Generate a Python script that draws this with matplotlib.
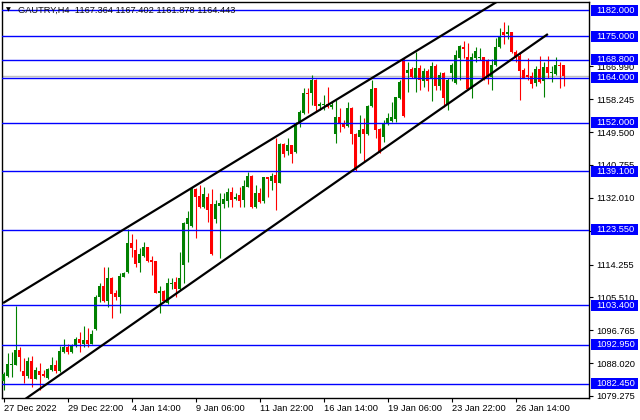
import matplotlib
matplotlib.use('Agg')
from matplotlib import pyplot as plt
from matplotlib.patches import Rectangle
from matplotlib.transforms import blended_transform_factory

# GAUTRY H4 candles (open, high, low, close)
opens = [1083.3, 1084.6, 1087.6, 1087.6, 1091.5, 1085.9, 1084.7, 1088.6, 1083.9, 1085.9,
         1085.2, 1084.0, 1086.2, 1087.5, 1085.9, 1091.0, 1092.3, 1090.9, 1092.6, 1094.4,
         1093.2, 1094.2, 1093.2, 1097.0, 1105.5, 1108.5, 1104.6, 1110.7, 1106.7, 1105.7,
         1111.0, 1112.3, 1119.9, 1118.1, 1114.6, 1116.5, 1118.8, 1115.5, 1115.2, 1106.7,
         1107.2, 1103.9, 1109.1, 1109.7, 1107.7, 1114.1, 1125.0, 1124.5, 1134.3, 1132.5,
         1129.6, 1132.3, 1130.3, 1126.4, 1129.8, 1130.4, 1131.2, 1133.6, 1131.8, 1132.8,
         1131.4, 1135.0, 1137.8, 1129.6, 1133.2, 1131.2, 1137.5, 1136.6, 1138.1, 1136.0,
         1146.3, 1144.5, 1146.1, 1144.3, 1151.8, 1154.5, 1159.8, 1159.8, 1163.4, 1156.4,
         1156.7, 1157.0, 1156.3, 1149.0, 1153.4, 1152.0, 1151.1, 1155.8, 1149.0, 1148.3,
         1150.2, 1149.0, 1156.4, 1161.2, 1150.2, 1148.1, 1151.8, 1152.5, 1152.9, 1158.5,
         1168.9, 1165.2, 1166.2, 1163.8, 1166.5, 1163.2, 1165.8, 1163.8, 1167.1, 1161.8,
         1165.2, 1156.7, 1165.2, 1162.5, 1169.1, 1172.2, 1169.4, 1160.9, 1169.2, 1169.1,
         1169.4, 1168.7, 1164.2, 1167.4, 1172.1, 1176.2, 1175.6, 1176.2, 1170.9, 1169.7,
         1166.0, 1164.6, 1164.4, 1162.5, 1166.2, 1163.2, 1166.7, 1165.2, 1165.0, 1167.4,
         1167.364]
highs = [1085.6, 1090.8, 1091.0, 1103.2, 1092.4, 1089.3, 1089.7, 1089.9, 1087.1, 1088.1,
         1086.2, 1086.6, 1089.7, 1088.9, 1092.6, 1094.4, 1093.1, 1093.1, 1095.0, 1096.4,
         1097.9, 1097.3, 1096.8, 1106.1, 1109.3, 1113.5, 1113.5, 1111.0, 1107.5, 1111.9,
         1112.3, 1123.6, 1122.4, 1121.0, 1118.6, 1120.3, 1119.0, 1116.5, 1115.3, 1108.5,
         1107.5, 1110.6, 1110.6, 1111.0, 1117.7, 1125.7, 1128.6, 1134.7, 1134.5, 1135.4,
         1135.0, 1133.2, 1134.3, 1131.4, 1133.2, 1133.4, 1134.5, 1135.0, 1133.3, 1135.0,
         1136.8, 1139.0, 1138.1, 1135.4, 1134.5, 1137.6, 1137.6, 1138.5, 1147.9, 1146.5,
         1146.5, 1147.9, 1146.1, 1152.3, 1155.4, 1161.2, 1161.2, 1164.7, 1163.6, 1157.6,
         1159.4, 1161.6, 1157.6, 1158.0, 1155.8, 1152.7, 1157.6, 1156.3, 1149.2, 1154.0,
         1153.2, 1156.6, 1163.4, 1161.3, 1150.5, 1152.7, 1154.7, 1157.6, 1158.9, 1163.4,
         1169.1, 1168.2, 1166.7, 1170.9, 1167.4, 1166.5, 1166.2, 1168.2, 1167.6, 1165.6,
         1165.6, 1163.8, 1167.8, 1171.4, 1172.7, 1173.7, 1173.1, 1170.6, 1172.1, 1171.8,
         1169.6, 1168.9, 1168.9, 1174.5, 1177.1, 1178.9, 1178.0, 1176.2, 1171.4, 1170.9,
         1166.5, 1169.1, 1165.6, 1167.1, 1169.7, 1168.2, 1169.7, 1167.1, 1169.6, 1168.2,
         1167.402]
lows = [1080.9, 1084.4, 1084.2, 1087.5, 1086.0, 1082.8, 1084.0, 1081.7, 1083.8, 1080.9,
        1084.2, 1083.9, 1086.0, 1085.3, 1085.7, 1090.8, 1090.4, 1090.8, 1092.4, 1091.0,
        1092.4, 1092.4, 1093.0, 1096.8, 1104.4, 1104.3, 1102.9, 1100.1, 1104.8, 1101.4,
        1110.9, 1112.1, 1116.2, 1113.7, 1112.3, 1116.3, 1115.0, 1111.5, 1106.6, 1101.3,
        1104.4, 1103.7, 1107.7, 1105.7, 1107.5, 1109.3, 1115.0, 1124.3, 1121.2, 1129.2,
        1129.2, 1125.7, 1116.8, 1125.2, 1115.9, 1129.2, 1129.6, 1129.6, 1131.4, 1129.6,
        1129.6, 1134.8, 1129.2, 1129.2, 1130.5, 1130.7, 1132.3, 1134.1, 1128.8, 1135.9,
        1142.9, 1143.4, 1141.4, 1144.0, 1150.9, 1154.3, 1154.7, 1156.7, 1155.2, 1155.4,
        1155.4, 1155.8, 1155.6, 1146.7, 1149.6, 1150.5, 1150.9, 1146.3, 1139.2, 1143.9,
        1141.9, 1148.8, 1156.1, 1147.9, 1143.9, 1146.9, 1151.4, 1152.3, 1152.3, 1158.2,
        1153.6, 1160.3, 1163.8, 1160.3, 1160.7, 1161.6, 1160.5, 1157.9, 1160.7, 1160.7,
        1156.3, 1155.4, 1163.2, 1162.3, 1163.4, 1169.2, 1160.7, 1158.5, 1168.2, 1168.7,
        1163.4, 1162.3, 1160.7, 1167.1, 1171.8, 1172.9, 1174.2, 1170.5, 1168.2, 1158.0,
        1163.8, 1163.4, 1161.2, 1161.8, 1162.6, 1158.8, 1163.8, 1162.9, 1164.7, 1161.2,
        1161.878]
closes = [1085.1, 1087.8, 1087.8, 1091.5, 1089.7, 1084.6, 1088.6, 1083.9, 1086.2, 1084.9,
          1084.6, 1086.4, 1087.5, 1085.9, 1091.2, 1092.3, 1091.0, 1092.7, 1094.4, 1093.3,
          1094.2, 1093.1, 1095.8, 1105.7, 1108.5, 1104.5, 1110.7, 1106.4, 1105.5, 1111.2,
          1112.1, 1119.9, 1118.7, 1114.4, 1117.0, 1118.8, 1115.3, 1115.0, 1106.7, 1107.2,
          1104.5, 1109.3, 1109.4, 1107.7, 1110.6, 1125.2, 1126.6, 1134.5, 1132.3, 1129.6,
          1133.0, 1128.8, 1117.1, 1130.3, 1130.7, 1131.7, 1133.6, 1131.4, 1132.3, 1131.2,
          1135.2, 1137.8, 1129.6, 1133.2, 1131.0, 1137.5, 1136.9, 1137.8, 1136.0, 1146.3,
          1143.7, 1146.1, 1143.7, 1151.8, 1154.9, 1160.0, 1159.6, 1163.4, 1156.4, 1157.0,
          1157.0, 1156.3, 1156.7, 1153.6, 1152.0, 1150.9, 1155.8, 1149.0, 1139.4, 1150.1,
          1149.0, 1156.4, 1160.9, 1150.1, 1144.0, 1152.0, 1153.2, 1153.4, 1158.8, 1162.9,
          1153.8, 1166.0, 1164.1, 1166.5, 1163.4, 1165.8, 1163.2, 1167.1, 1161.8, 1164.7,
          1158.5, 1163.4, 1167.4, 1170.0, 1172.4, 1171.5, 1160.9, 1169.4, 1171.0, 1169.4,
          1163.8, 1164.2, 1167.4, 1172.1, 1174.9, 1175.3, 1176.2, 1170.9, 1169.1, 1165.8,
          1163.8, 1164.2, 1162.3, 1166.2, 1162.9, 1166.9, 1165.3, 1165.3, 1167.4, 1167.1,
          1164.443]

# horizontal levels drawn by hand on the chart
levels = [1182.0, 1175.0, 1168.8, 1164.0, 1152.0, 1139.1, 1123.55, 1103.4, 1092.95, 1082.45]
bid = 1164.443

# channel trend lines: (bar, price) end points
upper_channel = [(-0.1, 1104.0), (130, 1188.5)]
lower_channel = [(0, 1074.4), (136.1, 1175.6)]

# axis labels
price_ticks = [1079.275, 1088.020, 1096.765, 1105.510, 1114.255, 1123.265,
               1132.010, 1140.755, 1149.500, 1158.245, 1166.990]
date_ticks = [0, 16, 32, 48, 64, 80, 96, 112, 128]
date_labels = ['27 Dec 2022', '29 Dec 22:00', '4 Jan 14:00', '9 Jan 06:00', '11 Jan 22:00',
               '16 Jan 14:00', '19 Jan 06:00', '23 Jan 22:00', '26 Jan 14:00']
title = 'GAUTRY,H4  1167.364 1167.402 1161.878 1164.443'

plt.rcParams['font.family'] = ['Liberation Sans', 'DejaVu Sans']
FS = 6.7

fig = plt.figure(figsize=(6.4, 4.2), dpi=100)
ax = fig.add_axes([2 / 640, 22 / 420, 587 / 640, 396 / 420])

bull = '#008000'
bear = '#ff0000'
xs = range(len(opens))
colors = [bull if c >= o else bear for o, c in zip(opens, closes)]
bottoms = [min(o, c) for o, c in zip(opens, closes)]
heights = [max(abs(c - o), 0.27) for o, c in zip(opens, closes)]

ax.vlines(xs, lows, highs, colors=colors, linewidth=0.8, zorder=3)
ax.bar(xs, heights, bottom=bottoms, width=0.72, color=colors, linewidth=0, zorder=3)

ax.axhline(bid, color='#c0c0c0', linewidth=1.0, zorder=1)
for lv in levels:
    ax.axhline(lv, color='#0000ff', linewidth=1.0, zorder=4)

for line in (upper_channel, lower_channel):
    ax.plot([p[0] for p in line], [p[1] for p in line], color='black', linewidth=1.6,
            solid_capstyle='butt', zorder=5)

ax.set_xlim(-0.375, 146.375)
ax.set_ylim(1078.72, 1184.13)

ax.yaxis.tick_right()
ax.set_yticks(price_ticks)
ax.set_yticklabels(['%.3f' % p for p in price_ticks])
ax.set_xticks(date_ticks)
ax.set_xticklabels(date_labels, ha='left')
ax.tick_params(axis='y', direction='out', length=3, width=0.8, pad=2.5, labelsize=FS, colors='black')
ax.tick_params(axis='x', direction='out', length=3, width=0.8, pad=1.5, labelsize=FS, colors='black')
for sp in ax.spines.values():
    sp.set_color('black')
    sp.set_linewidth(1.0)

# blue price tags for the levels on the right scale (they cover the grid labels under them)
tag = blended_transform_factory(ax.transAxes, ax.transData)
box_h = 11 * (1184.13 - 1078.72) / 396
for lv in levels:
    ax.add_patch(Rectangle((589 / 587, lv - box_h / 2), 47 / 587, box_h, transform=tag,
                           facecolor='#0000ff', edgecolor='none', clip_on=False, zorder=6))
    ax.text(594 / 587, lv, '%.3f' % lv, transform=tag, color='white', fontsize=FS,
            va='center', ha='left', clip_on=False, zorder=7)

fig.text(8 / 640, 1 - 10 / 420, '▼', fontsize=4.5, family='DejaVu Sans', va='center', ha='center')
fig.text(18 / 640, 1 - 10 / 420, title, fontsize=FS, color='#101010', va='center', ha='left')

fig.savefig('out.png', dpi=100, facecolor='white')
